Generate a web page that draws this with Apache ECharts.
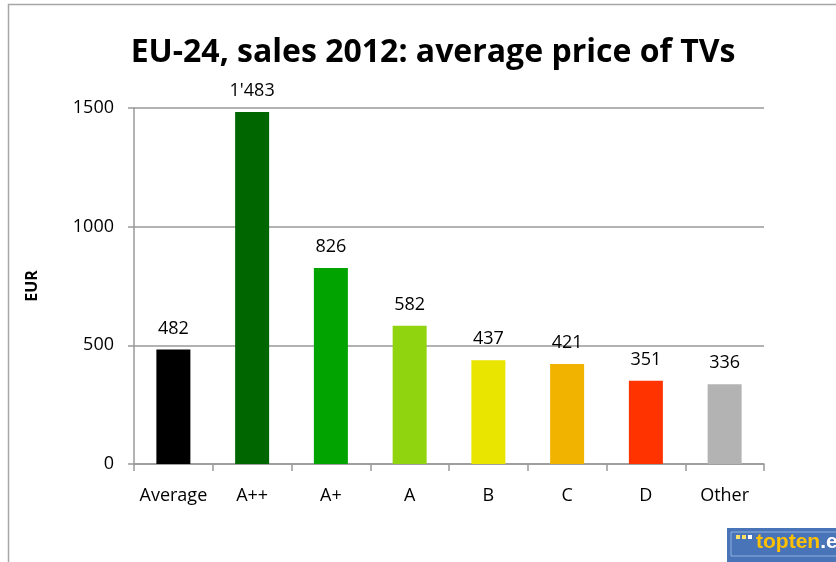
<!DOCTYPE html>
<html>
<head>
<meta charset="utf-8">
<script src="https://cdn.jsdelivr.net/npm/echarts@6/dist/echarts.min.js"></script>
<style>
  html, body { margin: 0; padding: 0; background: #fff; }
  #chart { width: 836px; height: 562px; }
</style>
</head>
<body>
<div id="chart"></div>
<script>
// Daten
const categories = ['Average', 'A++', 'A+', 'A', 'B', 'C', 'D', 'Other'];
const prices = [482, 1483, 826, 582, 437, 421, 351, 336];
const barColors = ['#000000', '#006600', '#00a300', '#8fd40f', '#e9e400', '#f2b300', '#ff3300', '#b3b3b3'];
const yTicks = [0, 500, 1000, 1500];

const FONT = '"Open Sans", "Liberation Sans", sans-serif';

// Tausendertrennzeichen wie im Original (1'483)
function fmt(v) {
    return String(v).replace(/\B(?=(\d{3})+(?!\d))/g, "'");
}

const chart = echarts.init(document.getElementById('chart'));

chart.setOption({
    animation: false,
    title: {
        text: 'EU-24, sales 2012: average price of TVs',
        left: 428,
        textAlign: 'center',
        top: 32,
        textStyle: { fontFamily: FONT, fontSize: 32, fontWeight: 'bold', color: '#000' }
    },
    grid: { left: 134, right: 72, top: 108, bottom: 98 },
    xAxis: {
        type: 'category',
        data: categories,
        axisLine: { lineStyle: { color: '#999', width: 1.5 } },
        axisTick: { show: true, length: 7, lineStyle: { color: '#999', width: 1.5 } },
        axisLabel: { interval: 0, color: '#000', fontFamily: FONT, fontSize: 18, margin: 23 }
    },
    yAxis: {
        type: 'value',
        min: yTicks[0],
        max: yTicks[yTicks.length - 1],
        interval: 500,
        name: 'EUR',
        nameLocation: 'middle',
        nameGap: 94,
        nameRotate: 90,
        nameTextStyle: { fontFamily: FONT, fontSize: 16, fontWeight: 'bold', color: '#000' },
        axisLine: { show: true, lineStyle: { color: '#999', width: 1.5 } },
        axisTick: { show: true, length: 6, lineStyle: { color: '#999', width: 1.5 } },
        axisLabel: { color: '#000', fontFamily: FONT, fontSize: 18, margin: 20, formatter: v => String(v) },
        splitLine: { lineStyle: { color: '#999', width: 1.5 } }
    },
    series: [{
        type: 'bar',
        barWidth: 34,
        data: prices.map((v, i) => ({ value: v, itemStyle: { color: barColors[i] } })),
        label: {
            show: true,
            position: 'top',
            distance: 12,
            color: '#000',
            fontFamily: FONT,
            fontSize: 18,
            formatter: p => fmt(p.value)
        }
    }],
    graphic: [
        // Rahmen des Diagramms
        {
            type: 'rect',
            shape: { x: 8.5, y: 4.5, width: 840, height: 600 },
            style: { fill: 'none', stroke: '#a6a6a6', lineWidth: 1.5 },
            silent: true
        },
        // topten.eu Logo
        {
            type: 'group',
            left: 727,
            top: 528,
            children: [
                { type: 'rect', shape: { x: 0, y: 0, width: 120, height: 34 }, style: { fill: '#4a74b8' } },
                { type: 'rect', shape: { x: 4, y: 4, width: 120, height: 24 }, style: { fill: 'none', stroke: '#8fb0e0', lineWidth: 1 } },
                { type: 'rect', shape: { x: 9, y: 7, width: 4, height: 4 }, style: { fill: '#ffe066' } },
                { type: 'rect', shape: { x: 15, y: 7, width: 4, height: 4 }, style: { fill: '#ffe066' } },
                { type: 'rect', shape: { x: 21, y: 7, width: 4, height: 4 }, style: { fill: '#ffffff' } },
                {
                    type: 'text', x: 29, y: 4,
                    style: {
                        rich: {
                            a: { fill: '#ffc000', fontSize: 21, fontWeight: 'bold', fontFamily: '"Liberation Sans Narrow", "Liberation Sans", sans-serif' },
                            b: { fill: '#ffffff', fontSize: 21, fontWeight: 'bold', fontFamily: '"Liberation Sans Narrow", "Liberation Sans", sans-serif' }
                        },
                        text: '{a|topten}{b|.eu}'
                    }
                }
            ]
        }
    ]
});
</script>
</body>
</html>
